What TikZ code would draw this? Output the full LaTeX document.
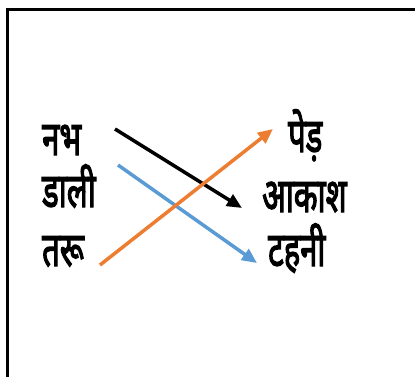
\documentclass[tikz,border=0pt]{standalone}
\usepackage{fontspec}
\newfontfamily\dev[Script=Devanagari, FakeBold=3]{Noto Sans}
\usetikzlibrary{arrows.meta}
\definecolor{arrorange}{HTML}{ED7D31}
\definecolor{arrblue}{HTML}{5B9BD5}
\newcommand{\hw}[1]{\scalebox{0.86}[1.32]{#1}}
\tikzset{
  word/.style={inner sep=0pt, anchor=base west, font=\dev\fontsize{36}{40}\selectfont},
  link/.style={line width=3.5pt, -{Triangle[length=15pt,width=13pt]}},
}
\begin{document}
\begin{tikzpicture}[x=1pt,y=-1pt]
\useasboundingbox (0,0) rectangle (415,376);
\clip (0,0) rectangle (415,376);
\draw[line width=3pt] (7.5,9) rectangle (430,390);
\node[word] (nabh) at (42,155) {\hw{नभ}};
\node[word] (dali) at (42,207) {\hw{डाली}};
\node[word] (taru) at (42,266) {\hw{तरू}};
\node[word] (ped) at (288,152) {\hw{पेड़}};
\node[word] (akash) at (262,212) {\hw{आकाश}};
\node[word] (tahni) at (268,266) {\hw{टहनी}};
\coordinate (s1) at (115,129);
\coordinate (e1) at (242,208);
\coordinate (s2) at (118,165);
\coordinate (e2) at (257,263);
\coordinate (s3) at (100,265);
\coordinate (e3) at (273,129);
\draw[link, black] (s1) -- (e1);
\draw[link, arrblue] (s2) -- (e2);
\draw[link, arrorange] (s3) -- (e3);
\end{tikzpicture}
\end{document}
